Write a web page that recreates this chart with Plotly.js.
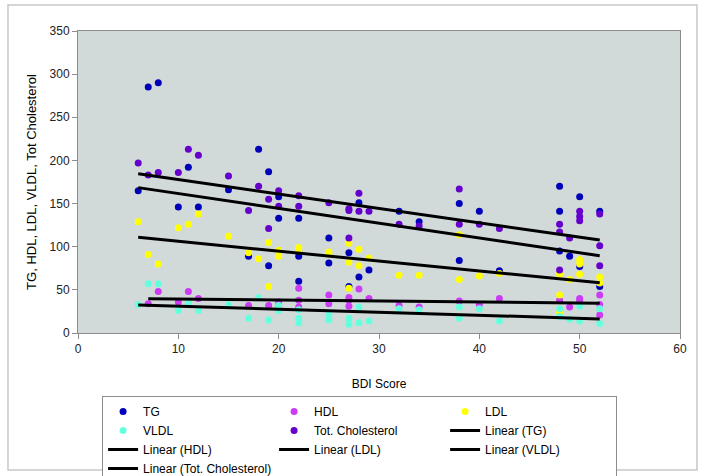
<!DOCTYPE html>
<html><head><meta charset="utf-8">
<script src="https://cdn.plot.ly/plotly-3.0.1.min.js"></script>
<style>html,body{margin:0;padding:0;background:#fff;} #chart{width:705px;height:476px;}</style>
</head><body><div id="chart"></div>
<script>
// BDI score (x) and lipid values (y) for each series
const tgX = [6,7,8,10,11,12,15,17,18,19,19,20,20,22,22,22,25,25,27,27,28,28,29,32,34,38,38,40,42,48,48,48,49,50,50,52,52];
const tgY = [165,285,290,146,192,146,166,89,213,187,78,158,133,133,89,60,110,81,93,54,151,65,73,141,129,150,84,141,72,170,141,95,89,158,77,141,54];

const hdlX = [7,8,10,11,12,17,19,20,20,22,22,22,25,25,27,27,27,28,29,32,34,38,40,42,48,49,50,50,52,52,52];
const hdlY = [34,48,36,48,40,32,32,36,32,52,38,30,44,34,41,38,31,51,40,32,30,37,33,40,38,30,40,38,44,33,21];

const ldlX = [6,7,8,10,11,12,15,17,18,19,19,20,20,22,22,25,25,27,27,27,28,28,29,32,34,38,38,40,42,48,48,48,49,50,50,50,52,52];
const ldlY = [129,91,80,122,126,138,112,93,86,105,54,96,89,99,96,94,92,104,82,52,97,78,87,67,67,114,62,66,69,68,44,24,62,85,80,68,65,58];

const vldlX = [6,7,8,10,11,12,15,17,18,19,20,20,22,22,22,25,25,27,27,28,28,29,32,34,38,38,40,42,48,48,49,50,50,52,52];
const vldlY = [33,57,57,26,35,26,33,17,41,15,32,26,27,17,12,21,15,17,10,30,12,14,28,27,30,17,28,14,28,19,16,31,14,28,11];

const tcX = [6,7,8,10,11,12,15,17,18,19,19,20,20,22,22,25,27,27,27,28,28,29,32,34,38,38,40,42,48,48,48,49,50,50,50,52,52,52];
const tcY = [197,183,186,186,213,206,182,142,170,155,121,165,147,159,147,151,144,142,110,162,141,141,126,124,167,126,126,121,126,117,73,110,141,135,130,138,101,78];

const seriesNames = ['TG','HDL','LDL','VLDL','Tot. Cholesterol'];
const seriesColors = ['#0000bb','#cc3cf5','#ffff00','#66ffdd','#6600cc'];
const seriesData = [[tgX,tgY],[hdlX,hdlY],[ldlX,ldlY],[vldlX,vldlY],[tcX,tcY]];

function linFit(xs, ys){
  const n = xs.length;
  let sx=0, sy=0, sxx=0, sxy=0;
  for(let i=0;i<n;i++){ sx+=xs[i]; sy+=ys[i]; sxx+=xs[i]*xs[i]; sxy+=xs[i]*ys[i]; }
  const b = (n*sxy - sx*sy)/(n*sxx - sx*sx);
  const a = (sy - b*sx)/n;
  return {a, b};
}

const traces = [];
seriesData.forEach((d,i)=>{
  traces.push({
    type:'scatter', mode:'markers', name:seriesNames[i],
    x:d[0], y:d[1],
    marker:{color:seriesColors[i], size:7}
  });
});
seriesData.forEach((d,i)=>{
  const f = linFit(d[0], d[1]);
  const x0 = Math.min(...d[0]), x1 = Math.max(...d[0]);
  traces.push({
    type:'scatter', mode:'lines', name:'Linear ('+seriesNames[i]+')',
    x:[x0,x1], y:[f.a+f.b*x0, f.a+f.b*x1],
    line:{color:'#000', width:3}
  });
});

const font = {family:'"Liberation Sans", Arial, sans-serif', size:12, color:'#000'};

const layout = {
  width:705, height:476,
  margin:{l:78, r:25, t:31, b:143, autoexpand:false},
  paper_bgcolor:'#fff',
  plot_bgcolor:'#d1dad9',
  font:font,
  showlegend:true,
  xaxis:{
    range:[0,60], dtick:10, tick0:0,
    showgrid:false, zeroline:false,
    showline:true, linecolor:'#8c8c8c', linewidth:1, mirror:true,
    ticks:'outside', ticklen:5, tickcolor:'#8c8c8c',
    tickfont:{family:font.family, size:12, color:'#222'},
    title:{text:'BDI Score', font:{family:font.family, size:12, color:'#000'}, standoff:24}
  },
  yaxis:{
    range:[0,350], dtick:50, tick0:0,
    showgrid:false, zeroline:false,
    showline:true, linecolor:'#8c8c8c', linewidth:1, mirror:true,
    ticks:'outside', ticklen:5, tickcolor:'#8c8c8c',
    tickfont:{family:font.family, size:12, color:'#222'},
    title:{text:'TG, HDL, LDL, VLDL, Tot Cholesterol', font:{family:font.family, size:13, color:'#000'}, standoff:10}
  },
  legend:{
    orientation:'h', x:0.04, y:-0.2086, xanchor:'left', yanchor:'top',
    bgcolor:'#fff', bordercolor:'#8c8c8c', borderwidth:1,
    font:{family:font.family, size:12, color:'#000'},
    entrywidth:126, traceorder:'normal', itemwidth:30
  },
  shapes:[{
    type:'rect', xref:'paper', yref:'paper',
    x0:-0.1163, x1:1.0282, y0:-0.4536, y1:1.086,
    line:{color:'#c8c8c8', width:1.5}, fillcolor:'rgba(0,0,0,0)', layer:'below'
  }]
};

Plotly.newPlot('chart', traces, layout, {staticPlot:true, displayModeBar:false});
</script>
</body></html>
